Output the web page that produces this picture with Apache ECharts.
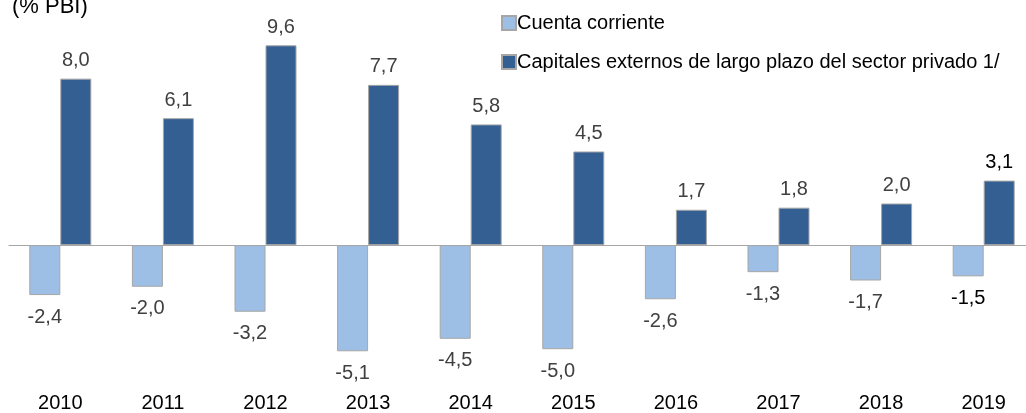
<!DOCTYPE html>
<html>
<head>
<meta charset="utf-8">
<script src="https://cdn.jsdelivr.net/npm/echarts@6/dist/echarts.min.js"></script>
<style>
  html, body { margin: 0; padding: 0; background: #fff; overflow: hidden; }
  /* el gráfico original queda recortado por la derecha */
  #chart { width: 1040px; height: 413px; }
</style>
</head>
<body>
<div id="chart"></div>
<script>
const years = ['2010', '2011', '2012', '2013', '2014', '2015', '2016', '2017', '2018', '2019']
const cuentaCorriente = [-2.4, -2.0, -3.2, -5.1, -4.5, -5.0, -2.6, -1.3, -1.7, -1.5]
const capitalesPrivados = [8.0, 6.1, 9.6, 7.7, 5.8, 4.5, 1.7, 1.8, 2.0, 3.1]
const seriesNames = ['Cuenta corriente', 'Capitales externos de largo plazo del sector privado 1/']

const font = '"Liberation Sans", Arial, sans-serif'
const fmt = v => v.toFixed(1).replace('.', ',')

// el último año va con etiquetas en negro
const withLabelColor = arr => arr.map((v, i) => ({
  value: v,
  label: { color: i === arr.length - 1 ? '#000' : '#404040' }
}))

const chart = echarts.init(document.getElementById('chart'))

const option = {
  animation: false,
  title: {
    text: '(% PBI)',
    left: 7,
    top: -9,
    textStyle: { fontFamily: font, fontSize: 22, fontWeight: 'normal', color: '#000' }
  },
  legend: {
    orient: 'vertical',
    left: 496,
    top: 8,
    itemWidth: 14,
    itemHeight: 14,
    itemGap: 19,
    icon: 'rect',
    textStyle: { fontFamily: font, fontSize: 20, color: '#000', padding: [0, 0, 0, -4] },
    data: seriesNames
  },
  grid: { left: 9, width: 1026, top: 37, height: 333 },
  xAxis: [
    {
      type: 'category',
      data: years,
      axisLine: { onZero: true, lineStyle: { color: '#a6a6a6', width: 1 } },
      axisTick: { show: false },
      axisLabel: { show: false }
    },
    {
      type: 'category',
      data: years,
      position: 'bottom',
      axisLine: { show: false, onZero: false },
      axisTick: { show: false },
      axisLabel: { fontFamily: font, fontSize: 20, color: '#000', margin: 23 }
    }
  ],
  yAxis: {
    type: 'value',
    min: -6,
    max: 10,
    show: false,
    splitLine: { show: false }
  },
  series: [
    {
      name: seriesNames[0],
      type: 'bar',
      data: withLabelColor(cuentaCorriente),
      barWidth: 31,
      barGap: '0%',
      itemStyle: { color: '#9dbfe6', borderColor: '#a6a6a6', borderWidth: 1 },
      label: {
        show: true,
        position: 'bottom',
        distance: 12,
        fontFamily: font,
        fontSize: 20,
        formatter: p => fmt(p.value)
      }
    },
    {
      name: seriesNames[1],
      type: 'bar',
      data: withLabelColor(capitalesPrivados),
      barWidth: 31,
      barGap: '0%',
      itemStyle: { color: '#335f93', borderColor: '#a6a6a6', borderWidth: 1 },
      label: {
        show: true,
        position: 'top',
        distance: 8,
        fontFamily: font,
        fontSize: 20,
        formatter: p => fmt(p.value)
      }
    }
  ]
}

chart.setOption(option)
</script>
</body>
</html>
